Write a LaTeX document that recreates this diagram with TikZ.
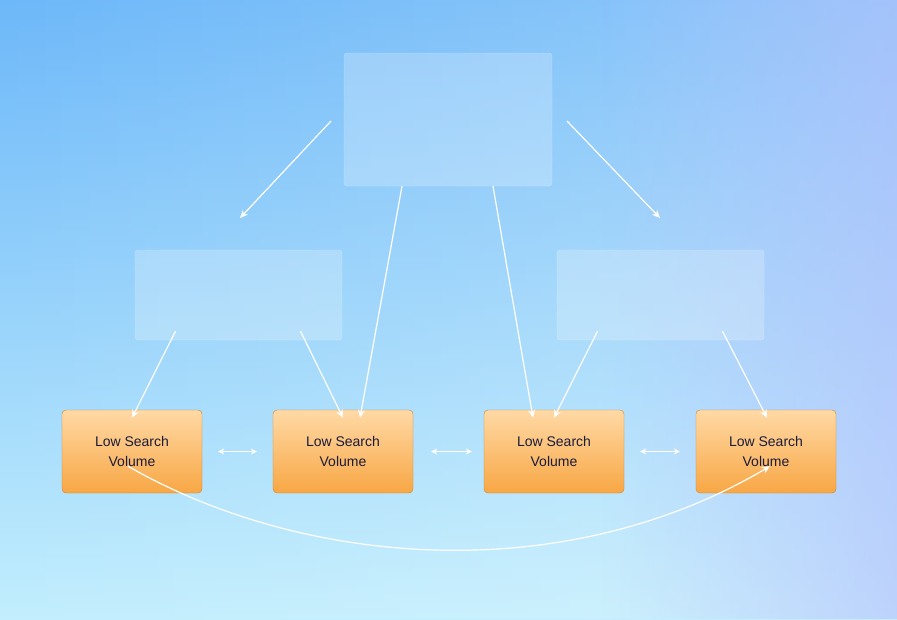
\documentclass[tikz,border=0pt]{standalone}
\usepackage{fontspec}
\setmainfont{Liberation Sans}
\usetikzlibrary{positioning,arrows.meta,fadings}
\definecolor{bgtop}{HTML}{6DB8F9}
\definecolor{bgbot}{HTML}{C2EEFD}
\definecolor{orgtop}{HTML}{FFD9A6}
\definecolor{orgbot}{HTML}{F8A744}
\definecolor{orgline}{HTML}{D0842C}
\definecolor{txt}{HTML}{1B1B3A}
\definecolor{lav}{HTML}{B0BEFC}
\tikzset{
  glass/.style={rectangle, rounded corners=3pt, fill=white, fill opacity=0.22, draw=white, draw opacity=0.35, inner sep=0pt},
  lsv/.style={rectangle, rounded corners=4pt, top color=orgtop, bottom color=orgbot, draw=orgline, minimum width=140pt, minimum height=83pt, align=center, text=txt, font=\fontsize{14}{20}\selectfont},
  link/.style={draw=white, line width=1.2pt, -{Stealth[length=8pt,width=7pt]}},
  both/.style={draw=white, line width=1.2pt, {Stealth[length=6pt,width=6pt]}-{Stealth[length=6pt,width=6pt]}}
}
\begin{document}
\begin{tikzpicture}[x=1pt,y=-1pt]
\useasboundingbox (0,0) rectangle (897,619);
\shade[top color=bgtop, bottom color=bgbot] (0,0) rectangle (897,619);
\fill[white, opacity=0.25, path fading=west] (0,0) rectangle (897,619);
\fill[lav, opacity=0.6, path fading=west] (600,0) rectangle (897,619);

\node[glass, minimum width=208pt, minimum height=133pt] (top) at (448,119.5) {};
\node[glass, minimum width=207pt, minimum height=90pt] (midl) at (238.5,295) {};
\node[glass, minimum width=207pt, minimum height=90pt] (midr) at (660.5,295) {};

\node[lsv] (a) at (132,451.5) {Low Search\\Volume};
\node[lsv] (b) at (343,451.5) {Low Search\\Volume};
\node[lsv] (c) at (554,451.5) {Low Search\\Volume};
\node[lsv] (d) at (766,451.5) {Low Search\\Volume};

\coordinate (t1) at (331,121); \coordinate (t1e) at (240,218);
\coordinate (t2) at (567,121); \coordinate (t2e) at (660,218);
\draw[link] (t1) -- (t1e);
\draw[link] (t2) -- (t2e);
\draw[link] ([xshift=-46pt]top.south) -- ([xshift=17pt,yshift=-8pt]b.north);
\draw[link] ([xshift=45pt]top.south) -- ([xshift=-21pt,yshift=-8pt]c.north);
\draw[link] ([xshift=-63pt,yshift=9pt]midl.south) -- ([yshift=-8pt]a.north);
\draw[link] ([xshift=62pt,yshift=9pt]midl.south) -- ([yshift=-8pt]b.north);
\draw[link] ([xshift=-63pt,yshift=9pt]midr.south) -- ([yshift=-8pt]c.north);
\draw[link] ([xshift=62pt,yshift=9pt]midr.south) -- ([xshift=1pt,yshift=-8pt]d.north);

\draw[both] ([xshift=16pt]a.east) -- ([xshift=-16pt]b.west);
\draw[both] ([xshift=18pt]b.east) -- ([xshift=-12pt]c.west);
\draw[both] ([xshift=16pt]c.east) -- ([xshift=-16pt]d.west);

\draw[link] ([xshift=-4pt,yshift=27pt]a.south) .. controls (300,565) and (560,590) .. ([xshift=4pt,yshift=27pt]d.south);
\end{tikzpicture}
\end{document}
